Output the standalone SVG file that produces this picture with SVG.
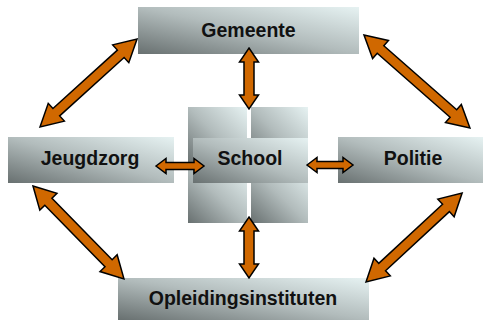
<svg xmlns="http://www.w3.org/2000/svg" width="484" height="321" viewBox="0 0 484 321">
  <defs>
    <linearGradient id="boxFill" x1="0" y1="1" x2="1" y2="0">
      <stop offset="0" stop-color="#687070"/>
      <stop offset="0.5" stop-color="#b2bcbc"/>
      <stop offset="1" stop-color="#e6f2f2"/>
    </linearGradient>
  </defs>
  <style>
    .box { fill: url(#boxFill); }
    .label { font-family: "Liberation Sans", Arial, sans-serif; font-weight: bold; font-size: 19.5px; fill: #111; text-anchor: middle; }
    .arrow { fill: #d06800; stroke: #000; stroke-width: 1.5; stroke-linejoin: miter; }
  </style>
  <rect width="484" height="321" fill="#fff"/>

  <g id="gemeente">
    <rect class="box" x="138" y="7" width="221" height="47"/>
    <text class="label" x="248.5" y="37">Gemeente</text>
  </g>

  <g id="jeugdzorg">
    <rect class="box" x="8" y="137" width="166" height="46"/>
    <text class="label" x="90" y="165">Jeugdzorg</text>
  </g>

  <g id="politie">
    <rect class="box" x="338" y="137" width="145" height="46"/>
    <text class="label" x="413" y="165">Politie</text>
  </g>

  <g id="opleidingsinstituten">
    <rect class="box" x="118" y="278" width="251" height="42"/>
    <text class="label" x="243" y="305">Opleidingsinstituten</text>
  </g>

  <g id="school">
    <rect class="box" x="188" y="107" width="59" height="58"/>
    <rect class="box" x="251" y="107" width="57" height="58"/>
    <rect class="box" x="188" y="167" width="59" height="56"/>
    <rect class="box" x="251" y="167" width="57" height="56"/>
    <rect class="box" x="193" y="138" width="115" height="45"/>
    <text class="label" x="250" y="165">School</text>
  </g>

  <g id="connectors">
    <!-- Gemeente / School -->
    <polygon class="arrow" points="249,48 258.5,62 254,62 254,95 258.5,95 249,109 239.5,95 244,95 244,62 239.5,62"/>
    <!-- School / Opleidingsinstituten -->
    <polygon class="arrow" points="249,217 258.5,231 254,231 254,264 258.5,264 249,278 239.5,264 244,264 244,231 239.5,231"/>
    <!-- Jeugdzorg / School -->
    <polygon class="arrow" points="156,166 166,158.5 166,162.5 194,162.5 194,158.5 204,166 194,173.5 194,169.5 166,169.5 166,173.5"/>
    <!-- School / Politie -->
    <polygon class="arrow" points="307,165 317,157.5 317,161.5 343,161.5 343,157.5 353,165 343,172.5 343,168.5 317,168.5 317,172.5"/>
    <!-- Jeugdzorg / Gemeente -->
    <polygon class="arrow" transform="translate(40,127) rotate(-42.2)" points="0,0 22,-12 22,-5 109,-5 109,-12 131,0 109,12 109,5 22,5 22,12"/>
    <!-- Gemeente / Politie -->
    <polygon class="arrow" transform="translate(364,35) rotate(41.3)" points="0,0 22,-12 22,-5 119,-5 119,-12 141,0 119,12 119,5 22,5 22,12"/>
    <!-- Jeugdzorg / Opleidingsinstituten -->
    <polygon class="arrow" transform="translate(33,186) rotate(45.6)" points="0,0 22,-12 22,-5 108,-5 108,-12 130,0 108,12 108,5 22,5 22,12"/>
    <!-- Opleidingsinstituten / Politie -->
    <polygon class="arrow" transform="translate(366,282) rotate(-42.8)" points="0,0 22,-12 22,-5 109,-5 109,-12 131,0 109,12 109,5 22,5 22,12"/>
  </g>
</svg>
